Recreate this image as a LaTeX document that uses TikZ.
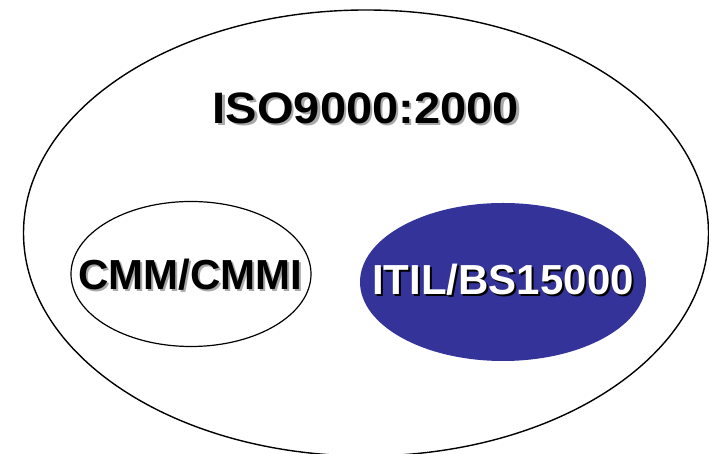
\documentclass[tikz,border=0pt]{standalone}
\usepackage{fontspec}
\setmainfont{Liberation Sans}
\usetikzlibrary{shapes.geometric}
\definecolor{itilblue}{HTML}{333399}
\definecolor{shadowgray}{HTML}{A8A8A8}
\tikzset{
  ring/.style={ellipse, draw=black, inner sep=0pt},
  title/.style={font=\fontsize{#1}{#1}\selectfont\bfseries, inner sep=0pt, anchor=base},
}
% text with a drop shadow set 2pt right and 2pt down
\newcommand{\dropshadow}[2]{\rlap{\kern2pt\raisebox{-2pt}{\textcolor{#1}{#2}}}#2}
\begin{document}
\begin{tikzpicture}[x=1pt, y=1pt]
  \useasboundingbox (0,0) rectangle (709,454);
  \clip (0,0) rectangle (709,454);
  \fill[white] (0,0) rectangle (709,454);
  % outer standard
  \node[ring, line width=1.4pt, minimum width=685, minimum height=446] (iso) at (366,221) {};
  % inner frameworks
  \node[ring, line width=1.2pt, minimum width=240, minimum height=145] (cmm) at (191,180) {};
  \node[ring, draw=none, fill=itilblue, minimum width=286, minimum height=158] (itil) at (503,172) {};
  % labels
  \node[title=44] (isolabel) at (366,330) {\scalebox{1.07}[1]{\dropshadow{shadowgray}{ISO9000:2000}}};
  \node[title=42] (cmmlabel) at (190,164) {\dropshadow{shadowgray}{CMM/CMMI}};
  \node[title=42, text=white] (itillabel) at (503,159) {\dropshadow{black}{ITIL/BS15000}};
\end{tikzpicture}
\end{document}
